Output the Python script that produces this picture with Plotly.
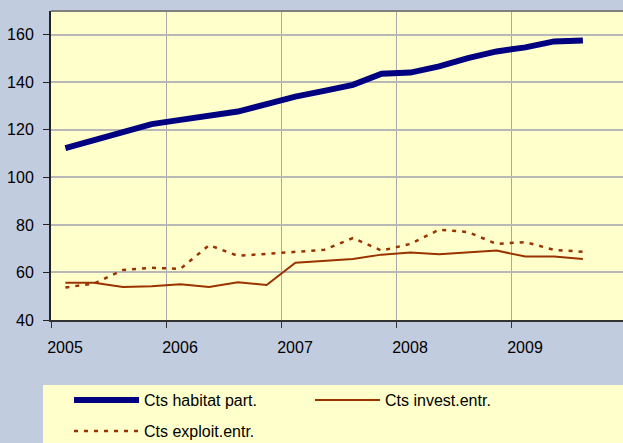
import plotly.graph_objects as go

# quarterly observations, expressed as fractional years
x_years = [2005.125 + 0.25 * i for i in range(19)]

habitat = [112.3, 115.7, 119.0, 122.4, 124.2, 126.0, 127.7, 130.8, 134.0, 136.4,
           138.9, 143.6, 144.1, 146.7, 150.2, 153.0, 154.7, 157.2, 157.6]
invest = [55.7, 55.7, 53.9, 54.2, 55.0, 53.9, 55.9, 54.7, 64.1, 64.9,
          65.7, 67.5, 68.4, 67.7, 68.4, 69.2, 66.7, 66.7, 65.7]
exploit = [53.7, 55.3, 61.0, 62.0, 61.5, 71.5, 67.0, 67.8, 68.6, 69.5,
           74.5, 69.2, 72.0, 78.0, 77.0, 72.0, 72.8, 69.5, 68.7]

x_ticks = [2005, 2006, 2007, 2008, 2009]
x_tick_labels = ["2005", "2006", "2007", "2008", "2009"]
y_ticks = [40, 60, 80, 100, 120, 140, 160]

names = ["Cts habitat part.", "Cts invest.entr.", "Cts exploit.entr."]

FONT = "Liberation Sans, Arial, sans-serif"

fig = go.Figure()
fig.add_trace(go.Scatter(x=x_years, y=habitat, name=names[0], mode="lines",
                         line=dict(color="#000080", width=6), legend="legend"))
fig.add_trace(go.Scatter(x=x_years, y=invest, name=names[1], mode="lines",
                         line=dict(color="#993300", width=2), legend="legend"))
fig.add_trace(go.Scatter(x=x_years, y=exploit, name=names[2], mode="lines",
                         line=dict(color="#993300", width=2.5, dash="4px,6px"),
                         legend="legend2"))

W, H = 623, 443
L, R, T, B = 51, 0, 11, 123
pw, ph = W - L - R, H - T - B

def px_x(p):
    return (p - L) / pw

def px_y(p):
    return (H - B - p) / ph

fig.update_layout(
    width=W, height=H,
    margin=dict(l=L, r=R, t=T, b=B, autoexpand=False),
    paper_bgcolor="#C2CCDF",
    plot_bgcolor="#FFFFCC",
    font=dict(family=FONT, size=16, color="#000000"),
    xaxis=dict(range=[2005, 2005 + pw / 115.0], tickvals=x_ticks, ticktext=x_tick_labels,
               automargin=False,
               showgrid=True, gridcolor="#A8A8A8", gridwidth=1.2,
               showline=True, linecolor="#333333", linewidth=2,
               ticks="outside", ticklen=6, tickcolor="#333333", tickwidth=1,
               ticklabelshift=14, ticklabelstandoff=6, zeroline=False,
               tickfont=dict(size=16)),
    yaxis=dict(range=[40, 170], tickvals=y_ticks, automargin=False,
               showgrid=True, gridcolor="#B8B8B8", gridwidth=1.5,
               showline=True, linecolor="#222222", linewidth=2,
               ticks="outside", ticklen=6, tickcolor="#222222", tickwidth=1,
               ticklabelstandoff=6, zeroline=False,
               tickfont=dict(size=16)),
    legend=dict(orientation="h", x=px_x(69), y=px_y(400), xanchor="left", yanchor="middle",
                bgcolor="rgba(0,0,0,0)", font=dict(size=16), itemwidth=65,
                entrywidth=161, entrywidthmode="pixels", tracegroupgap=0),
    legend2=dict(orientation="h", x=px_x(69), y=px_y(431), xanchor="left", yanchor="middle",
                 bgcolor="rgba(0,0,0,0)", font=dict(size=16), itemwidth=65),
    shapes=[
        dict(type="rect", xref="paper", yref="paper", x0=px_x(43), x1=px_x(W + 5),
             y0=px_y(H + 5), y1=px_y(385), fillcolor="#FFFFCC", line=dict(width=0),
             layer="below"),
        dict(type="line", xref="paper", yref="paper", x0=0, x1=1, y0=1, y1=1,
             line=dict(color="#808080", width=2)),
    ],
)

fig.write_html("out.html", config={"displayModeBar": False},
               post_script="document.body.style.margin='0';document.body.style.background='#C2CCDF';")
